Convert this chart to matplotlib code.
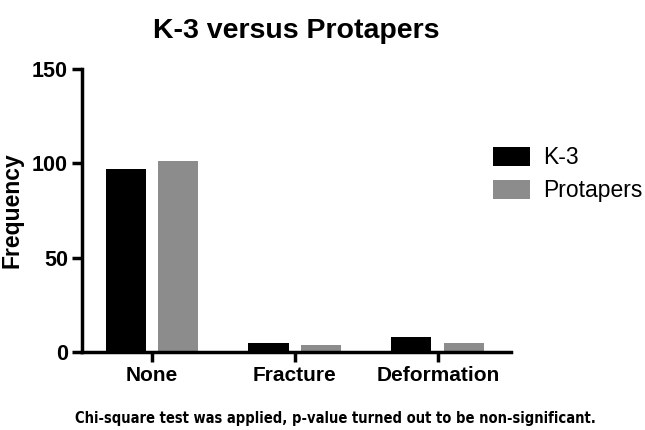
import matplotlib.pyplot as plt
import numpy as np

plt.rcParams['font.family'] = ['Liberation Sans', 'DejaVu Sans']

categories = ["None", "Fracture", "Deformation"]
k3 = [97, 5, 8]
protapers = [101, 4, 5]
series_names = ["K-3", "Protapers"]
note = "Chi-square test was applied, p-value turned out to be non-significant."

fig = plt.figure(figsize=(6.45, 4.3), dpi=100)
ax = fig.add_axes([0.127, 0.181, 0.665, 0.659])

x = np.arange(len(categories))
w = 0.28
off = 0.185
ax.bar(x - off, k3, w, color="black", label=series_names[0])
ax.bar(x + off, protapers, w, color="#8c8c8c", label=series_names[1])

ax.set_xlim(-0.49, 2.51)
ax.set_ylim(0, 150)
ax.set_yticks([0, 50, 100, 150])
ax.set_xticks(x)
ax.set_xticklabels(categories, fontsize=15, fontweight="bold")
for lab in ax.get_yticklabels():
    lab.set_fontsize(15.5)
    lab.set_fontweight("bold")

for s in ["top", "right"]:
    ax.spines[s].set_visible(False)
for s in ["left", "bottom"]:
    ax.spines[s].set_linewidth(2.5)
ax.tick_params(axis="both", width=2.5, length=7, direction="out", pad=3)

ax.set_ylabel("Frequency", fontsize=16.5, fontweight="bold", labelpad=6)
ax.set_title("K-3 versus Protapers", fontsize=20.5, fontweight="bold", pad=22)

ax.legend(loc="upper left", bbox_to_anchor=(0.91, 0.80), frameon=False,
          fontsize=16.5, handlelength=1.6, handleheight=0.9, labelspacing=0.45,
          handletextpad=0.6)

# footnote: shrink the font until it spans the same width as the reference
t = fig.text(0.52, 0.026, note, ha="center", va="center", fontsize=12,
             fontweight="bold", family=["DejaVu Sans"], fontstretch="condensed")
fig.canvas.draw()
wpx = t.get_window_extent().width
t.set_fontsize(12 * 518 / wpx)

fig.savefig("out.png", dpi=100)
